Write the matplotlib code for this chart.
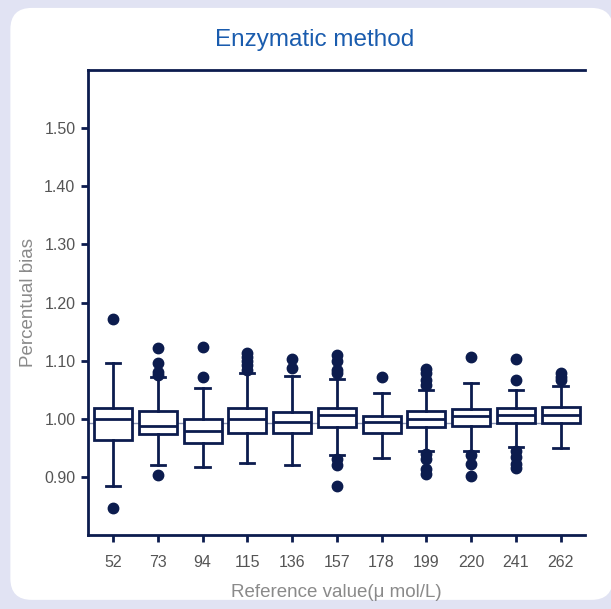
import matplotlib.pyplot as plt
from matplotlib.patches import FancyBboxPatch

plt.rcParams['font.family'] = ['Liberation Sans', 'DejaVu Sans']

categories = ['52', '73', '94', '115', '136', '157', '178', '199', '220', '241', '262']
whislo = [0.885, 0.920, 0.917, 0.924, 0.921, 0.938, 0.932, 0.944, 0.945, 0.951, 0.949]
q1     = [0.963, 0.973, 0.958, 0.975, 0.975, 0.986, 0.975, 0.986, 0.987, 0.992, 0.992]
med    = [1.000, 0.987, 0.979, 0.999, 0.994, 1.007, 0.994, 1.000, 1.004, 1.006, 1.006]
q3     = [1.019, 1.013, 0.999, 1.019, 1.012, 1.019, 1.004, 1.013, 1.017, 1.019, 1.020]
whishi = [1.096, 1.071, 1.053, 1.078, 1.074, 1.068, 1.044, 1.050, 1.062, 1.050, 1.057]
fliers = [
    [1.172, 0.846],
    [1.122, 1.096, 1.081, 1.075, 0.904],
    [1.124, 1.071],
    [1.113, 1.106, 1.099, 1.092, 1.084],
    [1.102, 1.088],
    [1.109, 1.100, 1.084, 1.078, 0.931, 0.920, 0.885],
    [1.071],
    [1.085, 1.078, 1.067, 1.058, 0.939, 0.931, 0.914, 0.905],
    [1.107, 0.937, 0.922, 0.901],
    [1.102, 1.067, 0.945, 0.934, 0.922, 0.915],
    [1.078, 1.071, 1.067],
]
ref_level = 0.992

navy = '#0c1c4e'

fig = plt.figure(figsize=(6.11, 6.09), dpi=100)
fig.patch.set_facecolor('#e1e3f3')
panel = FancyBboxPatch((0.017, 0.015), 0.986, 0.972, boxstyle='round,pad=0,rounding_size=0.035',
                       transform=fig.transFigure, facecolor='white', edgecolor='none', zorder=-5)
fig.patches.append(panel)

ax = fig.add_axes([0.144, 0.1215, 0.813, 0.7635])
ax.set_zorder(2)
ax.set_facecolor('white')

stats = []
for i in range(len(categories)):
    stats.append(dict(whislo=whislo[i], q1=q1[i], med=med[i], q3=q3[i],
                      whishi=whishi[i], fliers=fliers[i], label=categories[i]))

ax.hlines(ref_level, -0.6, 10, color='#8a94b4', lw=1, zorder=1)

ax.bxp(stats, positions=range(len(categories)), widths=0.85, capwidths=0.32,
       patch_artist=True,
       boxprops=dict(facecolor='white', edgecolor=navy, linewidth=2.0),
       medianprops=dict(color=navy, linewidth=2.0),
       whiskerprops=dict(color=navy, linewidth=2.0),
       capprops=dict(color=navy, linewidth=2.0),
       flierprops=dict(marker='o', markerfacecolor=navy, markeredgecolor=navy, markersize=7.5))

ax.set_xlim(-0.56, 10.54)
ax.set_ylim(0.80, 1.60)
ax.set_yticks([0.90, 1.00, 1.10, 1.20, 1.30, 1.40, 1.50])
ax.set_yticklabels(['0.90', '1.00', '1.10', '1.20', '1.30', '1.40', '1.50'])

for s in ['left', 'bottom', 'top']:
    ax.spines[s].set_color(navy)
    ax.spines[s].set_linewidth(2)
ax.spines['right'].set_visible(False)

ax.tick_params(axis='both', colors=navy, width=2, length=5, labelcolor='#555555', labelsize=11.5)
ax.tick_params(axis='x', pad=9.5)
ax.tick_params(axis='y', pad=4)

ax.set_xlabel('Reference value(\u03bc mol/L)', fontsize=13.5, color='#8a8a8a', labelpad=10)
ax.set_ylabel('Percentual bias', fontsize=13.5, color='#8a8a8a', labelpad=5)
fig.text(0.515, 0.9245, 'Enzymatic method', ha='center', va='baseline', fontsize=17.5, color='#1a5cae')

fig.savefig('out.png', dpi=100, facecolor=fig.get_facecolor())
